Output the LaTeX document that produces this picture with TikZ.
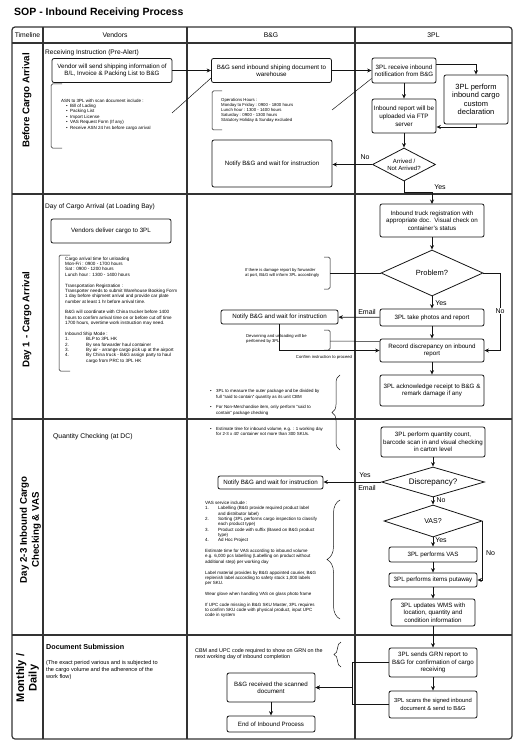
\documentclass[tikz,border=0pt]{standalone}
\usepackage{fontspec}
\setmainfont{Liberation Sans}
\definecolor{gridgray}{HTML}{333333}
\definecolor{inkblack}{HTML}{141414}
\usetikzlibrary{arrows.meta,positioning,shapes.geometric,decorations.pathreplacing}

\tikzset{
  stepbox/.style={draw=inkblack,line width=0.8pt,rounded corners=2pt,align=center,
    inner sep=1pt,font=\fontsize{6.2}{7.4}\selectfont},
  decision/.style={draw=inkblack,line width=0.8pt,diamond,aspect=2.2,inner sep=0pt,align=center},
  flow/.style={draw=inkblack,line width=0.8pt,-{Stealth[length=4.5pt,width=4pt]}},
  link/.style={draw=inkblack,line width=0.5pt},
  note/.style={align=left,inner sep=0pt,anchor=west,font=\fontsize{4.5}{5.35}\selectfont},
  tag/.style={font=\fontsize{7}{8}\selectfont,inner sep=0.5pt},
  lane/.style={draw=gridgray,line width=1.2pt},
  head/.style={font=\fontsize{6.8}{8}\selectfont,inner sep=0pt},
  phase/.style={rotate=90,align=center,font=\fontsize{9.7}{12}\selectfont\bfseries,inner sep=0pt},
  caption/.style={anchor=west,inner sep=0pt,font=\fontsize{6.6}{8}\selectfont},
}

\begin{document}
\begin{tikzpicture}[x=1pt,y=-1pt]
  \useasboundingbox (0,0) rectangle (520,741);

  % Title
  \node[anchor=west,inner sep=0pt,font=\fontsize{10.5}{12}\selectfont\bfseries] (title) at (14,13) {SOP - Inbound Receiving Process};

  % Swimlanes
  \draw[lane,rounded corners=3pt] (12,27) rectangle (512,739);
  \draw[lane] (12,43) -- (512,43);
  \draw[lane] (12,194) -- (512,194);
  \draw[lane] (12,419) -- (512,419);
  \draw[lane] (12,635) -- (512,635);
  \draw[lane] (43,27) -- (43,739);
  \draw[lane] (187,27) -- (187,739);
  \draw[lane] (355,27) -- (355,739);

  \node[head] (hTime) at (27.5,35) {Timeline};
  \node[head] (hVendor) at (115,35) {Vendors};
  \node[head] (hBG) at (271,35) {B\&G};
  \node[head] (h3PL) at (433.5,35) {3PL};

  \node[phase] (pBefore) at (27,100.5) {Before Cargo Arrival};
  \node[phase] (pDay1) at (27,319.5) {Day 1 - Cargo Arrival};
  \node[phase] (pDay23) at (30.5,530) {Day 2-3 Inbound Cargo\\Checking \& VAS};
  \node[phase,font=\fontsize{11}{12.5}\selectfont\bfseries] (pMonth) at (27.5,678) {Monthly /\\Daily};

  % Before cargo arrival
  \node[caption] (capPre) at (45,53) {Receiving Instruction (Pre-Alert)};
  \node[stepbox,minimum width=120,minimum height=24] (vendor) at (112,70.5) {Vendor will send shipping information of\\B/L, Invoice \& Packing List to B\&G};
  \node[stepbox,minimum width=120,minimum height=24] (bgsend) at (271.5,70.5) {B\&G send inbound shiping document to\\warehouse};
  \node[stepbox,minimum width=64,minimum height=25] (rcv) at (404,70.5) {3PL receive inbound\\notification from B\&G};
  \node[stepbox,minimum width=64,minimum height=49,font=\fontsize{7.5}{8.4}\selectfont] (customs) at (476,99.5) {3PL perform\\inbound cargo\\custom\\declaration};
  \node[stepbox,minimum width=64,minimum height=34,font=\fontsize{6.3}{8}\selectfont] (ftp) at (404,116) {Inbound report will be\\uploaded via FTP\\server};
  \node[decision,minimum width=63,minimum height=33,font=\fontsize{6}{7.2}\selectfont] (arrived) at (404,164.5) {Arrived /\\Not Arrived?};
  \node[stepbox,minimum width=120,minimum height=47] (notifyA) at (272,163.5) {Notify B\&G and wait for instruction};

  \draw[link,rounded corners=1.5pt] (62,84) -- (51,84) -- (51,148) -- (62,148);
  \node[note] (asn) at (61,114.5) {ASN to 3PL with scan document include :\\
    \hspace*{5pt}\makebox[4pt][l]{\textbullet}Bill of Lading\\
    \hspace*{5pt}\makebox[4pt][l]{\textbullet}Packing List\\
    \hspace*{5pt}\makebox[4pt][l]{\textbullet}Import License\\
    \hspace*{5pt}\makebox[4pt][l]{\textbullet}VAS Request Form (If any)\\
    \hspace*{5pt}\makebox[4pt][l]{\textbullet}Receive ASN 24 hrs before cargo arrival};
  \coordinate (asnR) at (172,113);

  \draw[link,rounded corners=1.5pt] (222,91) -- (212,91) -- (212,130) -- (222,130);
  \node[note,font=\fontsize{4.3}{5}\selectfont] (ops) at (221,110) {Operations Hours :\\
    Monday to Friday : 0900 - 1800 hours\\
    Lunch hour : 1300 - 1400 hours\\
    Saturday : 0900 - 1300 hours\\
    Statutory Holiday \& Sunday excluded};
  \coordinate (opsR) at (332,110);

  \draw[flow] (vendor) -- (bgsend);
  \draw[flow] (bgsend) -- (rcv);
  \draw[flow] ([yshift=6.5pt]rcv.east) -| (customs.north);
  \draw[flow] (customs.south) |- ([yshift=-11pt]ftp.east);
  \draw[flow] (rcv) -- (ftp);
  \draw[flow] (ftp) -- (arrived);
  \draw[flow] (arrived.west) -- (arrived.west -| notifyA.east);
  \node[tag] (tNoA) at (365,157) {No};
  \draw[flow] (arrived.south) -- ++(0,11) -| (432,204);
  \node[tag] (tYesA) at (440,187) {Yes};
  \draw[link] (asnR) -- ([yshift=-7.5pt]bgsend.west);
  \draw[link] (opsR) -- ([yshift=-8pt]rcv.west);

  % Day 1 - cargo arrival
  \node[caption] (capBay) at (45,207) {Day of Cargo Arrival (at Loading Bay)};
  \node[stepbox,minimum width=120,minimum height=24] (deliver) at (111,231) {Vendors deliver cargo to 3PL};
  \node[stepbox,minimum width=104,minimum height=33] (truck) at (432,220.5) {Inbound truck registration with\\appropriate doc.\ \ Visual check on\\container's status};
  \node[decision,minimum width=102,minimum height=46,font=\fontsize{7.5}{9}\selectfont] (problem) at (432,273) {Problem?};
  \node[stepbox,minimum width=104,minimum height=17] (photos) at (432,317.5) {3PL take photos and report};
  \node[stepbox,minimum width=117,minimum height=14] (notifyB) at (279.5,317) {Notify B\&G and wait for instruction};
  \node[stepbox,minimum width=104,minimum height=23] (record) at (432,350.5) {Record discrepancy on inbound\\report};
  \node[stepbox,minimum width=104,minimum height=31] (ack) at (432,390.5) {3PL acknowledge receipt to B\&G \&\\remark damage if any};

  \draw[link,rounded corners=1.5pt] (70,255) -- (59,255) -- (59,371) -- (70,371);
  \node[note,font=\fontsize{4.6}{5.37}\selectfont] (arrivalNote) at (65,310) {Cargo arrival time for unloading\\
    Mon-Fri : 0900 - 1700 hours\\
    Sat : 0900 - 1200 hours\\
    Lunch hour : 1300 - 1400 hours\\[5.37pt]
    Transportation Registration :\\
    Transporter needs to submit Warehouse Booking Form\\
    1 day before shipment arrival and provide car plate\\
    number at least 1 hr before arrival time.\\[5.37pt]
    B\&G will coordinate with China trucker before 1400\\
    hours to confirm arrival time on or before cut off time\\
    1700 hours, overtime work instruction may need.\\[5.37pt]
    Inbound Ship Mode :\\
    \makebox[21pt][l]{1.}BLP to 3PL HK\\
    \makebox[21pt][l]{2.}By sea forwarder haul container\\
    \makebox[21pt][l]{3.}By air - arrange cargo pick up at the airport\\
    \makebox[21pt][l]{4.}By China truck - B\&G assign party to haul\\
    \hspace*{21pt}cargo from PRC to 3PL HK};

  \draw[link,rounded corners=1.5pt] (324,257) -- (330,257) -- (330,289) -- (324,289);
  \node[note,font=\fontsize{4.2}{5}\selectfont] (damage) at (245,272.5) {If there is damage report by forwarder\\at port, B\&G will inform 3PL accordingly};
  \coordinate (dmgR) at (330,273);
  \draw[link,rounded corners=1.5pt] (324,330) -- (330,330) -- (330,350) -- (324,350);
  \node[note,font=\fontsize{4.2}{5}\selectfont] (devan) at (246,338.5) {Devanning and unloading will be\\performed by 3PL};
  \coordinate (devR) at (330,341);

  \draw[flow] (truck) -- (problem);
  \draw[flow] (problem) -- (photos);
  \node[tag] (tYesB) at (441,303) {Yes};
  \draw[flow] (photos) -- (notifyB);
  \node[tag] (tEmailB) at (367,312) {Email};
  \draw[flow] (problem.east) -- ++(17,0) |- (record.east);
  \node[tag,fill=white] (tNoB) at (500,311) {No};
  \draw[flow] (photos) -- (record);
  \draw[flow] (notifyB.south) |- (record.west);
  \node[inner sep=0pt,font=\fontsize{4.2}{5}\selectfont] (tConfirm) at (324,357) {Confirm instruction to proceed};
  \draw[flow] (record) -- (ack);
  \draw[link] (dmgR) -- (problem.west);
  \draw[link] (devR) -- ([yshift=9pt]record.west);

  \draw[link,decorate,decoration={brace,amplitude=8pt}] (340,450) -- (340,375);
  \node[note,font=\fontsize{4.4}{5.35}\selectfont] (measure) at (210,412.5) {\makebox[6pt][l]{\textbullet}3PL to measure the outer package and be divided by\\
    \hspace*{6pt}full "said to contain" quantity as its unit CBM\\[5.35pt]
    \makebox[6pt][l]{\textbullet}For Non-Merchandise item, only perform "said to\\
    \hspace*{6pt}contain" package checking\\[10.7pt]
    \makebox[6pt][l]{\textbullet}Estimate time for inbound volume, e.g. : 1 working day\\
    \hspace*{6pt}for 2-3 x 40' container not more than 300 SKUs.};

  % Day 2-3 - checking and VAS
  \node[caption,font=\fontsize{6.8}{8}\selectfont] (capDC) at (53,437) {Quantity Checking (at DC)};
  \node[stepbox,minimum width=104,minimum height=30] (count) at (433,442) {3PL perform quantity count,\\barcode scan in and visual checking\\in carton level};
  \node[decision,minimum width=103,minimum height=30,font=\fontsize{8}{9}\selectfont] (discrep) at (433,482) {Discrepancy?};
  \node[stepbox,minimum width=105,minimum height=13] (notifyC) at (270.5,482.5) {Notify B\&G and wait for instruction};
  \node[decision,minimum width=98,minimum height=32,font=\fontsize{7}{8}\selectfont] (vas) at (433,521) {VAS?};
  \node[stepbox,minimum width=88,minimum height=15] (dovas) at (433,554.5) {3PL performs VAS};
  \node[stepbox,minimum width=88,minimum height=14] (putaway) at (433,580) {3PL performs items putaway};
  \node[stepbox,minimum width=84,minimum height=27] (wms) at (433,612.5) {3PL updates WMS with\\location, quantity and\\condition information};

  \draw[link,decorate,decoration={brace,amplitude=13pt}] (340,619) -- (340,500);
  \node[note] (vasNote) at (205,559.5) {VAS service include :\\
    \makebox[13pt][l]{1.}Labelling (B\&G provide required product label\\
    \hspace*{13pt}and distributor label)\\
    \makebox[13pt][l]{2.}Sorting (3PL performs cargo inspection to classify\\
    \hspace*{13pt}each product type)\\
    \makebox[13pt][l]{3.}Product code with suffix (Based on B\&G product\\
    \hspace*{13pt}type)\\
    \makebox[13pt][l]{4.}Ad Hoc Project\\[5.35pt]
    Estimate time for VAS according to inbound volume\\
    e.g. 6,000 pcs labelling (Labelling on product without\\
    additional step) per working day\\[5.35pt]
    Label material provides by B\&G appointed courier, B\&G\\
    replenish label according to safety stock 1,000 labels\\
    per SKU.\\[5.35pt]
    Wear glove when handling VAS on glass photo frame\\[5.35pt]
    If UPC code missing in B\&G SKU Master, 3PL requires\\
    to confirm SKU code with physical product, input UPC\\
    code in system};

  \draw[flow] (count) -- (discrep);
  \draw[flow] (discrep.west) -- (discrep.west -| notifyC.east);
  \node[tag] (tYesC) at (365,475) {Yes};
  \node[tag] (tEmailC) at (367,487.5) {Email};
  \draw[flow] (discrep) -- (vas);
  \node[tag] (tNoC) at (441,500) {No};
  \draw[flow] (vas) -- (dovas);
  \node[tag] (tYesD) at (441,540) {Yes};
  \draw[flow] (vas.east) |- (putaway.east);
  \node[tag] (tNoD) at (490.5,553.5) {No};
  \draw[flow] (dovas) -- (putaway);
  \draw[flow] (putaway) -- (wms);

  % Monthly / daily
  \node[caption,font=\fontsize{7.2}{8}\selectfont\bfseries] (capDoc) at (46,647) {Document Submission};
  \node[note,font=\fontsize{5.6}{6.7}\selectfont] (period) at (46,670) {(The exact period various and is subjected to\\the cargo volume and the adherence of the\\work flow)};
  \node[note,font=\fontsize{5.4}{6}\selectfont] (cbm) at (195,654) {CBM and UPC code required to show on GRN on the\\next working day of inbound completion};
  \draw[link,decorate,decoration={brace,amplitude=7pt}] (341,667) -- (341,642);

  \node[stepbox,minimum width=88,minimum height=29] (grn) at (433,662.5) {3PL sends GRN report to\\B\&G for confirmation of cargo\\receiving};
  \node[stepbox,minimum width=88,minimum height=27,font=\fontsize{5.8}{7.2}\selectfont] (scan) at (433,704.5) {3PL scans the signed inbound\\document \& send to B\&G};
  \node[stepbox,minimum width=88,minimum height=29] (bgrcv) at (271,687.5) {B\&G received the scanned\\document};
  \node[stepbox,minimum width=88,minimum height=16] (endp) at (271,724) {End of Inbound Process};
  \coordinate (merge) at (352,687.5);

  \draw[flow] (wms) -- (grn);
  \draw[flow] (grn) -- (scan);
  \draw[flow] (grn.west) -| (merge) -- (bgrcv.east);
  \draw[flow] (scan.west) -| (merge) -- (bgrcv.east);
  \draw[flow] (bgrcv) -- (endp);
\end{tikzpicture}
\end{document}
